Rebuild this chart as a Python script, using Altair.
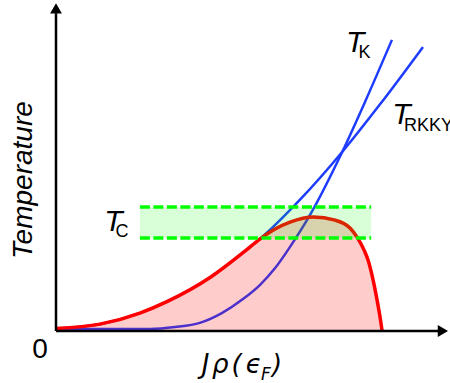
import altair as alt
import pandas as pd

# Doniach-type phase diagram, arbitrary units: x = J*rho(eps_F), y = temperature
rkky_x = [0.00, 1.12, 2.14, 2.83, 3.93, 4.82, 5.20, 6.22, 7.30, 8.27, 9.36]
rkky_y = [0.08, 0.21, 0.55, 0.90, 1.64, 2.45, 2.82, 4.02, 5.49, 6.96, 8.71]

kondo_x = [0.00, 2.40, 3.04, 3.67, 4.23, 4.77, 5.20, 5.59, 5.97, 6.48, 7.30, 7.88, 8.57]
kondo_y = [0.06, 0.06, 0.12, 0.25, 0.55, 0.98, 1.41, 1.93, 2.58, 3.56, 5.49, 7.02, 8.93]

tc_x = [0.00, 1.12, 2.14, 2.83, 3.93, 4.82, 5.20, 5.59, 5.97, 6.56, 7.12,
        7.50, 7.68, 7.86, 7.96, 8.09, 8.19, 8.27, 8.32]
tc_y = [0.08, 0.21, 0.55, 0.90, 1.64, 2.45, 2.82, 3.13, 3.34, 3.50, 3.40,
        3.16, 2.88, 2.48, 2.18, 1.56, 0.95, 0.40, 0.00]

# range of observed ordering temperatures
band_x = [2.14, 8.04]
band_y = [2.85, 3.80]

AXIS_MAX = 10.0

X = alt.Scale(domain=[0, AXIS_MAX], nice=False, zero=False)
Y = alt.Scale(domain=[0, AXIS_MAX], nice=False, zero=False)


def xe(field="x"):
    return alt.X(field, type="quantitative", scale=X, axis=None)


def ye(field="y"):
    return alt.Y(field, type="quantitative", scale=Y, axis=None)


blue = "#1e3cff"
green = "#00ff00"

scales_df = pd.DataFrame(
    {"x": rkky_x + kondo_x,
     "y": rkky_y + kondo_y,
     "curve": ["T_RKKY"] * len(rkky_x) + ["T_K"] * len(kondo_x)}
)
tc_df = pd.DataFrame({"x": tc_x, "y": tc_y, "base": [0.0] * len(tc_x)})
band_df = pd.DataFrame({"x": [band_x[0]], "x2": [band_x[1]],
                        "y": [band_y[0]], "y2": [band_y[1]]})
band_edges = pd.DataFrame({"x": [band_x[0]] * 2, "x2": [band_x[1]] * 2, "y": band_y})

blue_lines = alt.Chart(scales_df).mark_line(
    color=blue, strokeWidth=2.5, interpolate="monotone"
).encode(x=xe(), y=ye(), detail="curve:N")

tc_fill = alt.Chart(tc_df).mark_area(
    color="red", opacity=0.2, interpolate="monotone"
).encode(x=xe(), y=ye(), y2="base")

tc_line = alt.Chart(tc_df).mark_line(
    color="red", strokeWidth=3.5, interpolate="monotone"
).encode(x=xe(), y=ye())

band = alt.Chart(band_df).mark_rect(color=green, opacity=0.15).encode(
    x=xe(), x2="x2", y=ye(), y2="y2"
)
band_dash = alt.Chart(band_edges).mark_rule(
    color=green, strokeWidth=3.5, strokeDash=[10, 3.5]
).encode(x=xe(), x2="x2", y=ye())

# coordinate axes with arrowheads
axes_df = pd.DataFrame({"x": [0.0, 0.0], "x2": [9.8, 0.0],
                        "y": [0.0, 0.0], "y2": [0.0, 9.75]})
axes = alt.Chart(axes_df).mark_rule(color="black", strokeWidth=2.5).encode(
    x=xe(), x2="x2", y=ye(), y2="y2"
)
heads_df = pd.DataFrame({"x": [9.87, 0.0], "y": [0.0, 9.90],
                         "shape": ["triangle-right", "triangle-up"]})
heads = alt.Chart(heads_df).mark_point(
    filled=True, color="black", opacity=1, size=140
).encode(x=xe(), y=ye(), shape=alt.Shape("shape:N", scale=None))


def label(text, x, y, size, italic=False, align="left", baseline="alphabetic",
          angle=0, font="Liberation Sans"):
    df = pd.DataFrame({"x": [x], "y": [y], "t": [text]})
    kw = dict(fontSize=size, align=align, baseline=baseline, font=font,
              color="black")
    if italic:
        kw["fontStyle"] = "italic"
    if angle:
        kw["angle"] = angle
    return alt.Chart(df).mark_text(**kw).encode(x=xe(), y=ye(), text="t:N")


DV = "DejaVu Sans"
labels = [
    label("T", 7.40, 8.56, 30, italic=True),
    label("K", 7.72, 8.37, 18),
    label("T", 8.58, 6.35, 30, italic=True),
    label("RKKY", 8.88, 6.13, 18),
    label("T", 1.23, 3.07, 30, italic=True),
    label("C", 1.52, 2.88, 18),
    label("0", -0.41, -0.83, 28, align="center"),
    label("Temperature", -0.82, 4.63, 28, italic=True, align="center",
          baseline="middle", angle=270),
    # x-axis title J rho(eps_F), set piece by piece
    label("J", 3.72, -1.29, 26, italic=True, font=DV),
    label("ρ", 3.98, -1.29, 26, italic=True, font=DV),
    label("(", 4.48, -1.29, 26, italic=True, font=DV),
    label("ϵ", 4.84, -1.29, 26, italic=True, font=DV),
    label("F", 5.23, -1.50, 17, italic=True, font=DV),
    label(")", 5.51, -1.29, 26, italic=True, font=DV),
]

chart = alt.layer(
    blue_lines, tc_fill, tc_line, band, band_dash, axes, heads, *labels
).properties(
    width=392, height=326,
    padding={"left": 56, "top": 5, "right": 2, "bottom": 52},
    autosize=alt.AutoSizeParams(type="none"),
    background="white",
).configure_view(stroke=None)

chart.save("out.html", embed_options={"renderer": "svg", "actions": False})
